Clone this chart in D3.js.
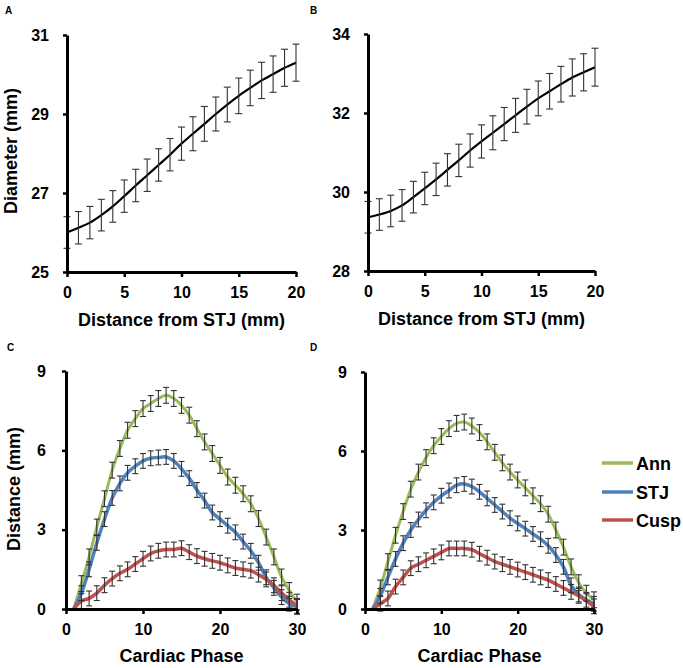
<!DOCTYPE html>
<html><head><meta charset="utf-8">
<script src="https://cdn.jsdelivr.net/npm/d3@7"></script>
<style>
body{margin:0;background:#fff;}
svg{display:block;font-family:"Liberation Sans",Arial,sans-serif;}
</style></head>
<body>
<svg id="c" width="683" height="668"></svg>
<script>
// ---- Data ----
const distX = [0,1,2,3,4,5,6,7,8,9,10,11,12,13,14,15,16,17,18,19,20];
const diamA = [26.0,26.12,26.25,26.44,26.66,26.92,27.19,27.45,27.71,27.97,28.25,28.5,28.75,29.0,29.24,29.46,29.66,29.85,30.01,30.17,30.3];
const errA  = [0.40,0.41,0.41,0.40,0.40,0.41,0.41,0.41,0.41,0.41,0.42,0.43,0.44,0.43,0.44,0.45,0.45,0.46,0.46,0.47,0.47];
const diamB = [29.36,29.43,29.52,29.66,29.87,30.09,30.32,30.56,30.8,31.05,31.28,31.5,31.72,31.94,32.16,32.37,32.55,32.73,32.9,33.03,33.16];
const errB  = [0.40,0.40,0.40,0.40,0.40,0.41,0.41,0.41,0.41,0.42,0.42,0.43,0.42,0.43,0.44,0.44,0.45,0.45,0.47,0.47,0.48];
const ticksA = [25,27,29,31];
const ticksB = [28,30,32,34];
const ticksDist = [0,5,10,15,20];

const phase = [1,2,3,4,5,6,7,8,9,10,11,12,13,14,15,16,17,18,19,20,21,22,23,24,25,26,27,28,29,30];
const annC  = [0,0.96,1.97,3.1,4.17,5.25,6.07,6.76,7.2,7.58,7.77,7.96,8.08,7.96,7.7,7.33,6.82,6.32,5.88,5.43,4.99,4.68,4.36,3.98,3.42,2.72,1.97,1.21,0.7,0.26];
const stjC  = [0,0.6,1.5,2.5,3.4,4.2,4.75,5.15,5.4,5.6,5.7,5.73,5.75,5.6,5.3,4.95,4.5,4.1,3.65,3.4,3.15,2.9,2.55,2.2,1.75,1.2,0.8,0.45,0.2,0.08];
const cuspC = [0,0.3,0.4,0.6,0.9,1.15,1.35,1.5,1.7,1.9,2.1,2.2,2.25,2.25,2.3,2.15,2.0,1.9,1.82,1.75,1.65,1.55,1.5,1.45,1.3,1.12,0.9,0.6,0.35,0.12];
const annD  = [0,0.8,1.8,2.8,3.7,4.55,5.2,5.75,6.2,6.55,6.85,7.05,7.1,6.95,6.7,6.35,5.95,5.55,5.2,4.9,4.6,4.3,4.0,3.6,3.0,2.35,1.6,1.0,0.6,0.35];
const stjD  = [0,0.5,1.2,1.9,2.5,3.0,3.4,3.75,4.05,4.3,4.5,4.7,4.75,4.65,4.45,4.2,3.95,3.7,3.45,3.25,3.05,2.85,2.65,2.4,2.05,1.6,0.9,0.55,0.35,0.2];
const cuspD = [0,0.2,0.4,0.85,1.2,1.55,1.7,1.85,2.0,2.15,2.3,2.3,2.3,2.25,2.1,1.95,1.8,1.7,1.6,1.5,1.4,1.3,1.2,1.1,0.95,0.8,0.65,0.5,0.3,0.1];
const errAnn  = [0,0.3,0.3,0.3,0.3,0.3,0.3,0.3,0.3,0.3,0.3,0.3,0.3,0.3,0.3,0.3,0.3,0.3,0.3,0.3,0.3,0.3,0.3,0.3,0.3,0.3,0.3,0.3,0.3,0.3];
const errStj  = [0,0.28,0.28,0.28,0.28,0.28,0.28,0.28,0.28,0.28,0.28,0.28,0.28,0.28,0.28,0.28,0.28,0.28,0.28,0.28,0.28,0.28,0.28,0.28,0.28,0.28,0.28,0.28,0.28,0.28];
const errCusp = [0,0.28,0.28,0.28,0.28,0.28,0.28,0.28,0.28,0.28,0.28,0.28,0.28,0.28,0.28,0.28,0.28,0.28,0.28,0.28,0.28,0.28,0.28,0.28,0.28,0.28,0.28,0.28,0.28,0.28];
const ticksCD = [0,3,6,9];
const ticksPhase = [0,10,20,30];
const seriesNames = ["Ann","STJ","Cusp"];
const seriesColors = ["#9BBB59","#4F81BD","#C0504D"];

const svg = d3.select("#c");

function panel(o){
  const g = svg.append("g");
  const x = d3.scaleLinear().domain(o.xd).range(o.xr);
  const y = d3.scaleLinear().domain(o.yd).range(o.yr);
  o.series.forEach(s=>{
    const line = d3.line().x((d,i)=>x(s.x[i])).y(d=>y(d)).curve(d3.curveCatmullRom.alpha(0.5));
    g.append("path").attr("d", line(s.y)).attr("fill","none")
      .attr("stroke", s.color).attr("stroke-width", s.w).attr("stroke-linejoin","round");
  });
  o.series.forEach(s=>{
    const eb = g.append("g").attr("stroke","#333").attr("stroke-width",1.1).attr("fill","none");
    s.y.forEach((v,i)=>{
      const e = s.e[i]; if(!e) return;
      const cx = x(s.x[i]), y1 = y(v+e), y2 = y(v-e), hw = o.cap;
      eb.append("line").attr("x1",cx).attr("x2",cx).attr("y1",y1).attr("y2",y2);
      eb.append("line").attr("x1",cx-hw).attr("x2",cx+hw).attr("y1",y1).attr("y2",y1);
      eb.append("line").attr("x1",cx-hw).attr("x2",cx+hw).attr("y1",y2).attr("y2",y2);
    });
  });
  const fmt = d3.format("d");
  const ax = g.append("g").attr("transform",`translate(0,${o.yr[0]})`)
    .call(d3.axisBottom(x).tickValues(o.xt).tickFormat(fmt).tickSize(5).tickPadding(10).tickSizeOuter(0));
  const ay = g.append("g").attr("transform",`translate(${o.xr[0]},0)`)
    .call(d3.axisLeft(y).tickValues(o.yt).tickFormat(fmt).tickSize(4).tickPadding(o.ypad).tickSizeOuter(0));
  [ax,ay].forEach(a=>{
    a.select(".domain").attr("stroke","#000").attr("stroke-width",3);
    a.selectAll(".tick line").attr("stroke","#000").attr("stroke-width",2.5);
    a.selectAll("text").attr("font-size",o.tickFs).attr("font-weight","bold").attr("fill","#000")
      .attr("font-family","Liberation Sans, Arial, sans-serif");
  });
  g.append("text").attr("x",(o.xr[0]+o.xr[1])/2).attr("y",o.xTitleY).attr("text-anchor","middle")
    .attr("font-size",18).attr("font-weight","bold").text(o.xTitle);
  if(o.yTitle){
    g.append("text").attr("transform",`translate(${o.yTitleX},${o.yTitleY}) rotate(-90)`)
      .attr("text-anchor","middle").attr("font-size",18).attr("font-weight","bold").text(o.yTitle);
  }
  g.append("text").attr("x",o.lab[0]).attr("y",o.lab[1]).attr("font-size",10).attr("font-weight","bold").text(o.label);
}

panel({xd:[0,20], xr:[67,296], yd:[25,31], yr:[272,35], xt:ticksDist, yt:ticksA, ypad:14, tickFs:16, cap:3.5,
  series:[{x:distX,y:diamA,e:errA,color:"#000",w:2.2}],
  xTitle:"Distance from STJ (mm)", xTitleY:326, yTitle:"Diameter (mm)", yTitleX:17, yTitleY:151,
  label:"A", lab:[5,14]});
panel({xd:[0,20], xr:[368,595], yd:[28,34], yr:[271,34], xt:ticksDist, yt:ticksB, ypad:14, tickFs:16, cap:3.5,
  series:[{x:distX,y:diamB,e:errB,color:"#000",w:2.2}],
  xTitle:"Distance from STJ (mm)", xTitleY:325, yTitle:null,
  label:"B", lab:[310,14]});
panel({xd:[0,30], xr:[66,297], yd:[0,9], yr:[609,371], xt:ticksPhase, yt:ticksCD, ypad:16, tickFs:16, cap:3,
  series:[{x:phase,y:annC,e:errAnn,color:seriesColors[0],w:3},
          {x:phase,y:stjC,e:errStj,color:seriesColors[1],w:3.5},
          {x:phase,y:cuspC,e:errCusp,color:seriesColors[2],w:3.5}],
  xTitle:"Cardiac Phase", xTitleY:662, yTitle:"Distance (mm)", yTitleX:20, yTitleY:489,
  label:"C", lab:[7,351]});
panel({xd:[0,30], xr:[365,594], yd:[0,9], yr:[609,372], xt:ticksPhase, yt:ticksCD, ypad:14, tickFs:16, cap:3,
  series:[{x:phase,y:annD,e:errAnn,color:seriesColors[0],w:3},
          {x:phase,y:stjD,e:errStj,color:seriesColors[1],w:3.5},
          {x:phase,y:cuspD,e:errCusp,color:seriesColors[2],w:3.5}],
  xTitle:"Cardiac Phase", xTitleY:662, yTitle:null,
  label:"D", lab:[310,351]});

const lg = svg.append("g");
const legY = [463,492,520];
seriesNames.forEach((n,i)=>{
  lg.append("line").attr("x1",602).attr("x2",633).attr("y1",legY[i]).attr("y2",legY[i])
    .attr("stroke",seriesColors[i]).attr("stroke-width",3.5);
  lg.append("text").attr("x",636).attr("y",legY[i]+6.5).attr("font-size",18).attr("font-weight","bold").text(n);
});
</script>
</body></html>
